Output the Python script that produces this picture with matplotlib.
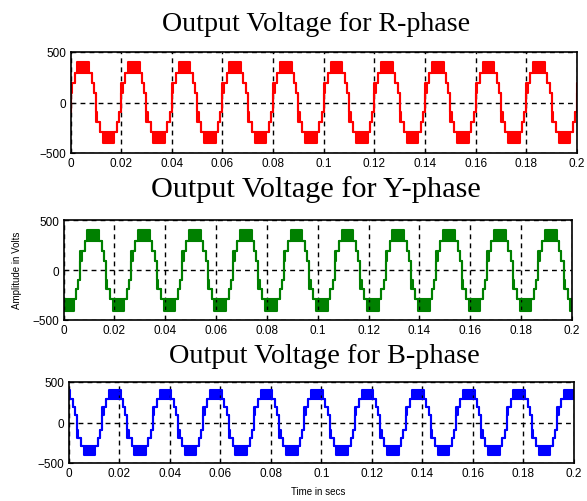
import numpy as np
import matplotlib
matplotlib.use('Agg')
import matplotlib.pyplot as plt

# one positive half cycle of the staircase output (seconds, volts)
half_t = [0.0, 0.0006, 0.0016, 0.0027, 0.0073, 0.0083, 0.0092]
half_low = [95, 190, 290, 290, 290, 190, 95]
half_high = [190, 190, 290, 405, 290, 190, 95]
period = 0.02
n_cycles = 10

phase_names = ['R', 'Y', 'B']
phase_colors = ['red', 'green', 'blue']
phase_shift = [0.0, period / 3, -period / 3]   # Y lags, B leads by 120 deg

xticks = [0, 0.02, 0.04, 0.06, 0.08, 0.1, 0.12, 0.14, 0.16, 0.18, 0.2]
xticklabels = ['0', '0.02', '0.04', '0.06', '0.08', '0.1', '0.12', '0.14', '0.16', '0.18', '0.2']
yticks = [-500, 0, 500]


def build_wave(shift):
    t, lo, hi = [], [], []
    for k in range(-2, n_cycles + 2):
        for sign in (1, -1):
            base = k * period + (0 if sign == 1 else period / 2) + shift
            for ht, l, h in zip(half_t, half_low, half_high):
                t.append(base + ht)
                if sign == 1:
                    lo.append(l)
                    hi.append(h)
                else:
                    lo.append(-h)
                    hi.append(-l)
    return np.array(t), np.array(lo), np.array(hi)


fig = plt.figure(figsize=(5.87, 5.02), dpi=100)
W, H = 587, 502
# axes boxes in pixels: left, top, right, bottom
boxes = [(70.5, 53, 577, 154), (63.5, 221, 572, 321), (68.5, 383, 574, 464)]
# title centre x, baseline y, font size
titles = [(316, 31, 20.2), (316, 197, 21.8), (324, 363, 20.3)]

for i in range(3):
    x0, y0, x1, y1 = boxes[i]
    ax = fig.add_axes([x0 / W, 1 - y1 / H, (x1 - x0) / W, (y1 - y0) / H])
    t, lo, hi = build_wave(phase_shift[i])
    c = phase_colors[i]
    ax.fill_between(t, lo, hi, step='post', color=c, lw=0)
    ax.step(t, lo, where='post', color=c, lw=1.5)
    ax.step(t, hi, where='post', color=c, lw=1.5)
    ax.set_xlim(0, 0.2)
    ax.set_ylim(-500, 500)
    ax.set_xticks(xticks)
    ax.set_xticklabels(xticklabels)
    ax.set_yticks(yticks)
    ax.tick_params(direction='in', labelsize=8.5, length=3, pad=3)
    ax.grid(True, color='black', linestyle=(0, (3.5, 3)), lw=1)
    for s in ax.spines.values():
        s.set_linewidth(1.2)
    for lab in ax.get_xticklabels() + ax.get_yticklabels():
        lab.set_family('Liberation Sans')
    tx, ty, fs = titles[i]
    fig.text(tx / W, 1 - ty / H, 'Output Voltage for ' + phase_names[i] + '-phase',
             family='Liberation Serif', fontsize=fs, ha='center', va='baseline')

fig.text(17 / W, 1 - 270 / H, 'Amplitude in Volts', family='Liberation Sans',
         fontsize=7, rotation=90, ha='center', va='center')
fig.text(318 / W, 1 - 492 / H, 'Time in secs', family='Liberation Sans',
         fontsize=7, ha='center', va='center')

fig.savefig('out.png', dpi=100)
